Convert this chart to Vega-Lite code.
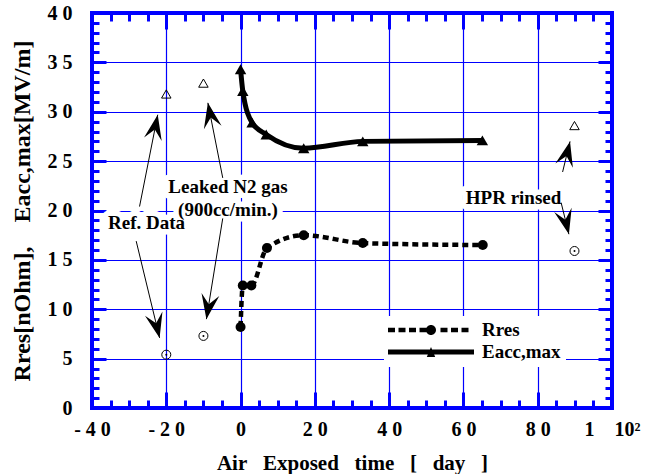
{
  "$schema": "https://vega.github.io/schema/vega-lite/v6.json",
  "width": 520,
  "height": 395,
  "autosize": {"type": "none"},
  "padding": {"left": 92, "top": 13, "right": 46, "bottom": 66},
  "background": "white",
  "config": {
    "font": "Liberation Serif",
    "view": {"stroke": "#0000ff", "strokeWidth": 4},
    "axis": {
      "labelFont": "Liberation Serif",
      "titleFont": "Liberation Serif",
      "labelFontWeight": "bold",
      "titleFontWeight": "bold",
      "labelColor": "black",
      "titleColor": "black",
      "domain": false,
      "tickColor": "#0000ff",
      "tickWidth": 3,
      "gridColor": "#0000ff",
      "gridWidth": 1.2,
      "gridOpacity": 1,
      "labelFlush": false,
      "labelOverlap": false,
      "labelBound": false
    }
  },
  "datasets": {
    "series": [
      {"day": 0, "value": 8.2, "series": "Rres"},
      {"day": 0.6, "value": 12.4, "series": "Rres"},
      {"day": 2.9, "value": 12.4, "series": "Rres"},
      {"day": 7.1, "value": 16.2, "series": "Rres"},
      {"day": 17, "value": 17.5, "series": "Rres"},
      {"day": 32.9, "value": 16.7, "series": "Rres"},
      {"day": 65.2, "value": 16.5, "series": "Rres"},
      {"day": 0, "value": 34.3, "series": "Eacc,max"},
      {"day": 0.6, "value": 32.1, "series": "Eacc,max"},
      {"day": 3.1, "value": 28.9, "series": "Eacc,max"},
      {"day": 6.9, "value": 27.7, "series": "Eacc,max"},
      {"day": 17, "value": 26.3, "series": "Eacc,max"},
      {"day": 32.9, "value": 27.0, "series": "Eacc,max"},
      {"day": 65.1, "value": 27.1, "series": "Eacc,max"}
    ],
    "other": [
      {"day": -20, "value": 31.8, "kind": "Eacc"},
      {"day": -20, "value": 5.4, "kind": "Rres"},
      {"day": -10, "value": 32.9, "kind": "Eacc"},
      {"day": -10, "value": 7.3, "kind": "Rres"},
      {"day": 89.9, "value": 28.6, "kind": "Eacc"},
      {"day": 89.9, "value": 15.9, "kind": "Rres"}
    ],
    "arrows": [
      {"from_day": -27.2, "from_val": 20.4, "to_day": -22.3, "to_val": 29.7},
      {"from_day": -28.1, "from_val": 16.9, "to_day": -21.8, "to_val": 7.1},
      {"from_day": -4.8, "from_val": 23.3, "to_day": -8.8, "to_val": 30.9},
      {"from_day": -4.8, "from_val": 19.2, "to_day": -9.2, "to_val": 9.0},
      {"from_day": 86.7, "from_val": 23.9, "to_day": 88.7, "to_val": 27.0},
      {"from_day": 86.3, "from_val": 20.8, "to_day": 88.4, "to_val": 17.6}
    ],
    "notes": [
      {"day": -25.3, "value": 18.7, "label": "Ref. Data"},
      {"day": -3.4, "value": 22.4, "label": "Leaked N2 gas\n(900cc/min.)"},
      {"day": 73.5, "value": 21.3, "label": "HPR rinsed"}
    ]
  },
  "resolve": {"axis": {"x": "independent", "y": "independent"}},
  "layer": [
    {
      "data": {"name": "notes"},
      "mark": {"type": "text", "font": "Liberation Serif", "fontSize": 19, "fontWeight": "bold", "align": "center", "baseline": "middle", "lineBreak": "\n", "lineHeight": 23, "fill": "white", "stroke": "white", "strokeWidth": 11, "strokeJoin": "round"},
      "encoding": {
        "x": {"field": "day", "type": "quantitative", "scale": {"domain": [-40, 100], "nice": false, "zero": false},
          "axis": {"orient": "bottom", "values": [-40, -20, 0, 20, 40, 60, 80, 100], "ticks": false, "grid": true,
            "labelExpr": "datum.value == -40 ? '- 4 0' : datum.value == -20 ? '- 2 0' : datum.value == 0 ? '0' : datum.value == 20 ? '2 0' : datum.value == 40 ? '4 0' : datum.value == 60 ? '6 0' : datum.value == 80 ? '8 0' : '1\u00a0\u00a0\u00a0\u00a010\u00b2'",
            "labelFontSize": 20, "labelPadding": 11,
            "title": "Air\u00a0\u00a0 Exposed\u00a0\u00a0 time\u00a0\u00a0 [\u00a0\u00a0 day\u00a0\u00a0 ]", "titleFontSize": 21, "titlePadding": 13}},
        "y": {"field": "value", "type": "quantitative", "scale": {"domain": [0, 40], "nice": false, "zero": false},
          "axis": {"orient": "left", "values": [0, 5, 10, 15, 20, 25, 30, 35, 40], "ticks": false, "grid": true,
            "labelExpr": "datum.value < 10 ? datum.label : slice(datum.label, 0, 1) + ' ' + slice(datum.label, 1)",
            "labelFontSize": 20, "labelPadding": 20,
            "title": "Rres[nOhm],\u00a0\u00a0\u00a0 Eacc,max[MV/m]", "titleFontSize": 24, "titlePadding": 13}},
        "text": {"field": "label", "type": "nominal"}
      }
    },
    {
      "data": {"name": "arrows"},
      "mark": {"type": "rule", "color": "black", "strokeWidth": 1},
      "encoding": {
        "x": {"field": "from_day", "type": "quantitative", "scale": {"domain": [-40, 100], "nice": false, "zero": false},
          "axis": {"orient": "bottom", "values": [-40, -20, 0, 20, 40, 60, 80, 100], "tickSize": -16, "labels": false, "grid": false, "title": null}},
        "y": {"field": "from_val", "type": "quantitative", "scale": {"domain": [0, 40], "nice": false, "zero": false},
          "axis": {"orient": "left", "values": [0, 5, 10, 15, 20, 25, 30, 35, 40], "tickSize": -14, "labels": false, "grid": false, "title": null}},
        "x2": {"field": "to_day"},
        "y2": {"field": "to_val"}
      }
    },
    {
      "data": {"name": "series"},
      "transform": [{"filter": "datum.series == 'Rres'"}],
      "mark": {"type": "line", "color": "black", "strokeWidth": 4.5, "strokeDash": [6, 4], "interpolate": "monotone"},
      "encoding": {
        "x": {"field": "day", "type": "quantitative", "scale": {"domain": [-40, 100], "nice": false, "zero": false},
          "axis": {"orient": "bottom", "values": [-35, -30, -25, -15, -10, -5, 5, 10, 15, 25, 30, 35, 45, 50, 55, 65, 70, 75, 85, 90, 95], "tickSize": -8, "labels": false, "grid": false, "title": null}},
        "y": {"field": "value", "type": "quantitative", "scale": {"domain": [0, 40], "nice": false, "zero": false},
          "axis": {"orient": "left", "values": [1, 2, 3, 4, 6, 7, 8, 9, 11, 12, 13, 14, 16, 17, 18, 19, 21, 22, 23, 24, 26, 27, 28, 29, 31, 32, 33, 34, 36, 37, 38, 39], "tickSize": -7, "labels": false, "grid": false, "title": null}}
      }
    },
    {
      "data": {"name": "series"},
      "transform": [{"filter": "datum.series == 'Eacc,max'"}],
      "mark": {"type": "line", "color": "black", "strokeWidth": 5, "interpolate": "monotone"},
      "encoding": {
        "x": {"field": "day", "type": "quantitative", "scale": {"domain": [-40, 100], "nice": false, "zero": false},
          "axis": {"orient": "top", "values": [-40, -20, 0, 20, 40, 60, 80, 100], "tickSize": -16, "labels": false, "grid": false, "title": null}},
        "y": {"field": "value", "type": "quantitative", "scale": {"domain": [0, 40], "nice": false, "zero": false},
          "axis": {"orient": "right", "values": [0, 5, 10, 15, 20, 25, 30, 35, 40], "tickSize": -14, "labels": false, "grid": false, "title": null}}
      }
    },
    {
      "data": {"name": "series"},
      "transform": [{"filter": "datum.series == 'Rres'"}],
      "mark": {"type": "point", "shape": "circle", "filled": true, "color": "black", "opacity": 1, "size": 100},
      "encoding": {
        "x": {"field": "day", "type": "quantitative", "scale": {"domain": [-40, 100], "nice": false, "zero": false},
          "axis": {"orient": "top", "values": [-35, -30, -25, -15, -10, -5, 5, 10, 15, 25, 30, 35, 45, 50, 55, 65, 70, 75, 85, 90, 95], "tickSize": -8, "labels": false, "grid": false, "title": null}},
        "y": {"field": "value", "type": "quantitative", "scale": {"domain": [0, 40], "nice": false, "zero": false},
          "axis": {"orient": "right", "values": [1, 2, 3, 4, 6, 7, 8, 9, 11, 12, 13, 14, 16, 17, 18, 19, 21, 22, 23, 24, 26, 27, 28, 29, 31, 32, 33, 34, 36, 37, 38, 39], "tickSize": -7, "labels": false, "grid": false, "title": null}}
      }
    },
    {
      "data": {"name": "series"},
      "transform": [{"filter": "datum.series == 'Eacc,max'"}],
      "mark": {"type": "point", "shape": "triangle-up", "filled": true, "color": "black", "opacity": 1, "size": 130},
      "encoding": {
        "x": {"field": "day", "type": "quantitative", "scale": {"domain": [-40, 100], "nice": false, "zero": false}, "axis": null},
        "y": {"field": "value", "type": "quantitative", "scale": {"domain": [0, 40], "nice": false, "zero": false}, "axis": null}
      }
    },
    {
      "data": {"name": "other"},
      "transform": [{"filter": "datum.kind == 'Rres'"}],
      "mark": {"type": "point", "shape": "circle", "filled": false, "color": "black", "strokeWidth": 1, "opacity": 1, "size": 81},
      "encoding": {
        "x": {"field": "day", "type": "quantitative", "scale": {"domain": [-40, 100], "nice": false, "zero": false}, "axis": null},
        "y": {"field": "value", "type": "quantitative", "scale": {"domain": [0, 40], "nice": false, "zero": false}, "axis": null}
      }
    },
    {
      "data": {"name": "other"},
      "transform": [{"filter": "datum.kind == 'Rres'"}],
      "mark": {"type": "point", "shape": "circle", "filled": true, "color": "black", "opacity": 1, "size": 4},
      "encoding": {
        "x": {"field": "day", "type": "quantitative", "scale": {"domain": [-40, 100], "nice": false, "zero": false}, "axis": null},
        "y": {"field": "value", "type": "quantitative", "scale": {"domain": [0, 40], "nice": false, "zero": false}, "axis": null}
      }
    },
    {
      "data": {"name": "other"},
      "transform": [{"filter": "datum.kind == 'Eacc'"}],
      "mark": {"type": "point", "shape": "triangle-up", "filled": false, "color": "black", "strokeWidth": 1, "opacity": 1, "size": 90},
      "encoding": {
        "x": {"field": "day", "type": "quantitative", "scale": {"domain": [-40, 100], "nice": false, "zero": false}, "axis": null},
        "y": {"field": "value", "type": "quantitative", "scale": {"domain": [0, 40], "nice": false, "zero": false}, "axis": null}
      }
    },
    {
      "data": {"name": "arrows"},
      "transform": [{"calculate": "atan2((datum.to_day - datum.from_day) * 3.715, (datum.to_val - datum.from_val) * 9.875) * 180 / PI", "as": "heading"}],
      "mark": {"type": "point", "shape": "M0,0L0.36,1L0,0.6L-0.36,1Z", "filled": true, "color": "black", "opacity": 1, "size": 2500, "strokeWidth": 0},
      "encoding": {
        "x": {"field": "to_day", "type": "quantitative", "scale": {"domain": [-40, 100], "nice": false, "zero": false}, "axis": null},
        "y": {"field": "to_val", "type": "quantitative", "scale": {"domain": [0, 40], "nice": false, "zero": false}, "axis": null},
        "angle": {"field": "heading", "type": "quantitative", "scale": null}
      }
    },
    {
      "data": {"name": "notes"},
      "mark": {"type": "text", "font": "Liberation Serif", "fontSize": 19, "fontWeight": "bold", "align": "center", "baseline": "middle", "lineBreak": "\n", "lineHeight": 23, "color": "black"},
      "encoding": {
        "x": {"field": "day", "type": "quantitative", "scale": {"domain": [-40, 100], "nice": false, "zero": false}, "axis": null},
        "y": {"field": "value", "type": "quantitative", "scale": {"domain": [0, 40], "nice": false, "zero": false}, "axis": null},
        "text": {"field": "label", "type": "nominal"}
      }
    },
    {
      "data": {"name": "series"},
      "mark": {"type": "point", "filled": true, "color": "black", "opacity": 0, "size": 1},
      "encoding": {
        "x": {"field": "day", "type": "quantitative", "scale": {"domain": [-40, 100], "nice": false, "zero": false}, "axis": null},
        "y": {"field": "value", "type": "quantitative", "scale": {"domain": [0, 40], "nice": false, "zero": false}, "axis": null},
        "shape": {"field": "series", "type": "nominal",
          "scale": {"domain": ["Rres", "Eacc,max"],
            "range": [
              "M-1,-0.22H-0.3V0.22H-1Z M0.05,-0.22H0.75V0.22H0.05Z M1.1,-0.22H1.8V0.22H1.1Z M2.15,-0.22H2.85V0.22H2.15Z M4.25,-0.22H4.95V0.22H4.25Z M5.3,-0.22H6V0.22H5.3Z M6.35,-0.22H7.05V0.22H6.35Z M2.8,0A0.5,0.5 0 1,1 3.8,0A0.5,0.5 0 1,1 2.8,0Z",
              "M-1,-0.25H7.6V0.25H-1Z M3.3,-0.5L3.72,0.5L2.88,0.5Z"
            ]},
          "legend": {"orient": "none", "legendX": 292, "legendY": 303, "padding": 4, "fillColor": "white", "strokeColor": "white",
            "symbolSize": 400, "labelOffset": 74, "rowPadding": 2, "title": null,
            "labelFont": "Liberation Serif", "labelFontSize": 19, "labelFontWeight": "bold", "labelColor": "black", "labelLimit": 200,
            "symbolFillColor": "black", "symbolStrokeColor": "black", "symbolStrokeWidth": 0, "symbolOpacity": 1}}
      }
    }
  ]
}
